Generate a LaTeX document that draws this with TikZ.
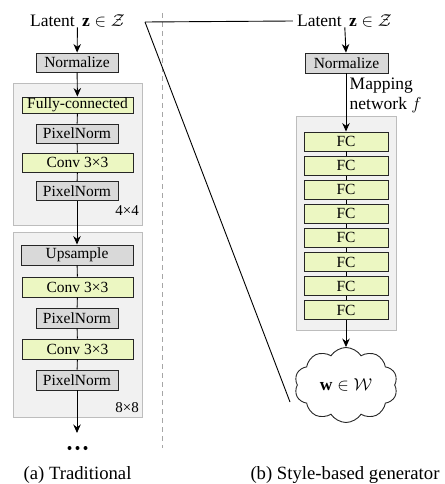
\documentclass[tikz,border=0pt]{standalone}
\usepackage{fontspec}
\setmainfont{Liberation Serif}
\usetikzlibrary{arrows.meta,shapes.symbols}
\definecolor{boxgray}{HTML}{D9D9D9}
\definecolor{boxgreen}{HTML}{ECF7C2}
\definecolor{panelfill}{HTML}{F1F1F1}
\definecolor{panelline}{HTML}{BDBDBD}
\tikzset{
  blk/.style={draw=black!85, line width=0.9pt, inner sep=0pt, minimum height=19pt,
    font=\rmfamily\fontsize{15.5}{17}\selectfont},
  graybox/.style={blk, fill=boxgray, minimum width=82pt},
  greenbox/.style={blk, fill=boxgreen, minimum width=111pt},
  fcbox/.style={blk, fill=boxgreen, minimum width=84pt},
  panel/.style={draw=panelline, fill=panelfill, line width=0.8pt},
  arr/.style={-{Stealth[length=8.5pt,width=7.5pt]}, line width=0.9pt},
  lnk/.style={line width=0.9pt},
  lbl/.style={font=\rmfamily\fontsize{17.5}{20}\selectfont, inner sep=0pt},
  captext/.style={font=\rmfamily\fontsize{18.7}{21}\selectfont, inner sep=0pt},
  res/.style={font=\rmfamily\fontsize{15}{17}\selectfont, inner sep=0pt},
  dotmark/.style={circle, fill=black, inner sep=0pt, minimum size=4pt},
}
\begin{document}
\begin{tikzpicture}[x=1pt,y=-1pt]
\useasboundingbox (0,0) rectangle (444,484);
% panels
\draw[panel] (13,83) rectangle (142,225);
\draw[panel] (13,232) rectangle (142,417);
\draw[panel] (296,116) rectangle (396,330);
% dashed separator
\draw[gray!70, line width=0.8pt, dash pattern=on 5pt off 4pt] (162,13) -- (162,448);
% left column
\node[lbl] (latL) at (77.5,21) {Latent\, $\mathbf{z}\in\mathcal{Z}$};
\node[graybox] (normL) at (77,62.5) {Normalize};
\node[greenbox, minimum height=16pt] (fc0) at (77.5,105) {Fully-connected};
\node[graybox] (pn1) at (77,133.5) {PixelNorm};
\node[greenbox] (cv1) at (77.5,162.5) {Conv 3×3};
\node[graybox] (pn2) at (77,191) {PixelNorm};
\node[res, anchor=east] (r4) at (139,211) {4×4};
\node[graybox, minimum width=112pt, minimum height=20pt] (up) at (77,255) {Upsample};
\node[greenbox, minimum height=20pt] (cv2) at (77.5,287) {Conv 3×3};
\node[graybox, minimum height=20pt] (pn3) at (77,318) {PixelNorm};
\node[greenbox, minimum height=20pt] (cv3) at (77.5,349) {Conv 3×3};
\node[graybox, minimum height=20pt] (pn4) at (77,380) {PixelNorm};
\node[res, anchor=east] (r8) at (139,408) {8×8};
\coordinate (endL) at (77,433);
\node[dotmark] (d1) at (69.5,448) {};
\node[dotmark] (d2) at (77.5,448) {};
\node[dotmark] (d3) at (85.5,448) {};
\node[captext] (capL) at (77.5,475) {(a) Traditional};
\draw[arr] (latL) -- (normL);
\draw[arr] (normL) -- (fc0);
\draw[lnk] (fc0) -- (pn1);
\draw[lnk] (pn1) -- (cv1);
\draw[lnk] (cv1) -- (pn2);
\draw[arr] (pn2) -- (up);
\draw[lnk] (up) -- (cv2);
\draw[lnk] (cv2) -- (pn3);
\draw[lnk] (pn3) -- (cv3);
\draw[lnk] (cv3) -- (pn4);
\draw[arr] (pn4.south) -- (endL);
% right column
\node[lbl] (latR) at (344.5,21) {Latent\, $\mathbf{z}\in\mathcal{Z}$};
\node[graybox, minimum width=83pt, minimum height=20pt] (normR) at (346.5,63) {Normalize};
\node[lbl, anchor=west, align=left] (map) at (349.5,95) {Mapping\\network $f$};
\foreach \i in {1,...,8} {
  \node[fcbox] (f\i) at (346,{141.5+24.1*(\i-1)}) {FC};
}
\foreach \i [count=\j from 2] in {1,...,7} {
  \draw[lnk] (f\i) -- (f\j);
}
\node[cloud, draw=black!85, line width=0.9pt, fill=white, cloud puffs=10, cloud puff arc=115,
  aspect=1.4, minimum width=103pt, minimum height=75pt, inner sep=0pt,
  font=\rmfamily\fontsize{17.5}{20}\selectfont] (w) at (346,385) {$\mathbf{w}\in\mathcal{W}$};
\node[captext] (capR) at (345,475) {(b) Style-based generator};
\draw[arr] (latR) -- (normR);
\draw[arr] (normR.south -| f1.north) -- (f1.north);
\draw[arr] (f8.south) -- (w.north);
% link lines
\coordinate (c) at (145,22);
\coordinate (cw) at (290,402);
\coordinate (lr) at ([xshift=-4pt]latR.west);
\draw[lnk] (c) -- (lr);
\draw[lnk] (c) -- (cw);
\end{tikzpicture}
\end{document}
